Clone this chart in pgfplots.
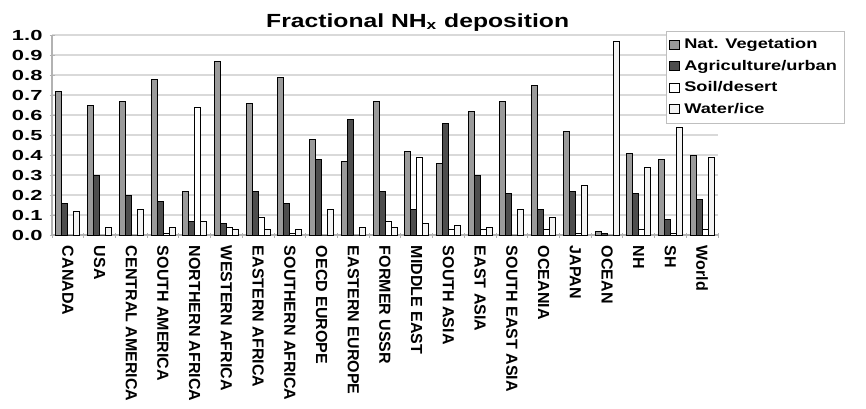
\documentclass[border=0pt]{standalone}
\usepackage{fontspec}
\setmainfont{Liberation Sans}
\newfontfamily\titlefont[FakeStretch=1.3]{Liberation Sans}
\newfontfamily\tickfont[FakeStretch=1.5]{Liberation Sans}
\newfontfamily\legfont[FakeStretch=1.3]{Liberation Sans}
\usepackage{pgfplots}
\usepackage{pgfplotstable}
\pgfplotsset{compat=1.18}
\definecolor{natc}{HTML}{9A9A9A}
\definecolor{agrc}{HTML}{4D4D4D}
\definecolor{soilc}{HTML}{FFFFFF}
\definecolor{watc}{HTML}{F3F3F3}
\pgfplotstableread{
x nat agri soil water
0 0.72 0.16 0 0.12
1 0.65 0.30 0 0.04
2 0.67 0.20 0 0.13
3 0.78 0.17 0.01 0.04
4 0.22 0.07 0.64 0.07
5 0.87 0.06 0.04 0.03
6 0.66 0.22 0.09 0.03
7 0.79 0.16 0.01 0.03
8 0.48 0.38 0 0.13
9 0.37 0.58 0 0.04
10 0.67 0.22 0.07 0.04
11 0.42 0.13 0.39 0.06
12 0.36 0.56 0.03 0.05
13 0.62 0.30 0.03 0.04
14 0.67 0.21 0 0.13
15 0.75 0.13 0.03 0.09
16 0.52 0.22 0.01 0.25
17 0.02 0.01 0 0.97
18 0.41 0.21 0.03 0.34
19 0.38 0.08 0.01 0.54
20 0.40 0.18 0.03 0.39
}\data
\pgfplotsset{sq/.style={legend image code/.code={\draw[##1,/tikz/.cd,draw=black,line width=0.4pt] (0pt,-2pt) rectangle (5pt,2.5pt);}}}
\begin{document}
\begin{tikzpicture}
\path[use as bounding box] (-26pt,-86.5pt) rectangle (407pt,117.5pt);
\begin{axis}[
  scale only axis,
  width=333pt, height=100pt,
  ybar=0pt, bar width=3pt,
  xmin=-0.5, xmax=20.5,
  ymin=0, ymax=1,
  ytick={0,0.1,...,1.01},
  yticklabel style={/pgf/number format/fixed,/pgf/number format/fixed zerofill,/pgf/number format/precision=1,/pgf/number format/assume math mode=true,font=\tickfont\bfseries\fontsize{7.3}{8}\selectfont},
  xtick={0,...,20},
  xticklabels={CANADA, USA, CENTRAL AMERICA, SOUTH AMERICA, NORTHERN AFRICA, WESTERN AFRICA, EASTERN AFRICA, SOUTHERN AFRICA, OECD EUROPE, EASTERN EUROPE, FORMER USSR, MIDDLE EAST, SOUTH ASIA, EAST ASIA, SOUTH EAST ASIA, OCEANIA, JAPAN, OCEAN, NH, SH, World},
  xticklabel style={rotate=-90, anchor=west, font=\bfseries\fontsize{8}{9}\selectfont, inner sep=0pt, xshift=4pt, yshift=0pt},
  major x tick style={draw=none},
  minor xtick={-0.5,0.5,...,20.6},
  minor tick length=2.5pt,
  major tick length=2.5pt,
  tick align=outside,
  tick style={draw=gray!60, line width=0.5pt},
  ymajorgrids, grid style={draw=gray!30, line width=0.6pt},
  axis x line=bottom, axis y line=left,
  axis line style={-, draw=gray!60, line width=0.6pt},
  title={Fractional NH\textsubscript{x} deposition},
  title style={at={(0.549,1)}, anchor=base, yshift=-2pt, font=\titlefont\bfseries\fontsize{9.5}{10}\selectfont},
  legend style={at={(0.922,1.02)}, anchor=north west, draw=gray!50, fill=white, font=\legfont\bfseries\fontsize{7}{8}\selectfont, row sep=0.2pt, inner sep=1.5pt, cells={anchor=west}, legend cell align=left},
  every axis plot/.append style={draw=black, line width=0.5pt},
]
\addplot[fill=natc, sq] table[x=x,y=nat] {\data};
\addplot[fill=agrc, sq] table[x=x,y=agri] {\data};
\addplot[fill=soilc, sq] table[x=x,y=soil] {\data};
\addplot[fill=watc, sq] table[x=x,y=water] {\data};
\legend{Nat. Vegetation, Agriculture/urban, Soil/desert, Water/ice}
\end{axis}
\end{tikzpicture}
\end{document}
